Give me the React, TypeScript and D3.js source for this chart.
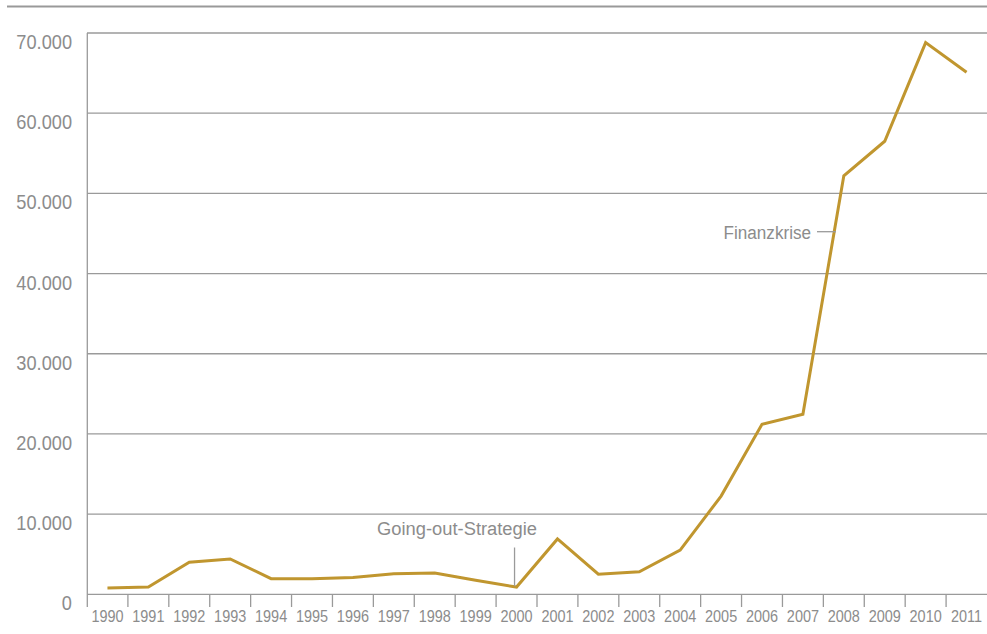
import React from "react";
import * as d3 from "d3";

const years = ["1990","1991","1992","1993","1994","1995","1996","1997","1998","1999","2000","2001","2002","2003","2004","2005","2006","2007","2008","2009","2010","2011"];
const values = [800, 900, 4000, 4400, 1950, 1950, 2100, 2550, 2650, 1750, 900, 6900, 2500, 2800, 5500, 12250, 21200, 22450, 52200, 56500, 68800, 65100];
const yTicks = [0, 10000, 20000, 30000, 40000, 50000, 60000, 70000];
const yTickLabels = ["0", "10.000", "20.000", "30.000", "40.000", "50.000", "60.000", "70.000"];
const annotations = [
  { year: "2000", label: "Going-out-Strategie" },
  { year: "2008", label: "Finanzkrise" },
];

const W = 987, H = 634;
const FONT = "'Liberation Sans', Arial, sans-serif";
const TEXT = "#8c8c8c";
const GRID = "#9a9a9a";
const LINE = "#C0962F";

function T({ x, y, sx, size, anchor, children }: { x: number; y: number; sx: number; size: number; anchor: string; children: React.ReactNode }) {
  return (
    <text transform={`translate(${x},${y}) scale(${sx},1)`} textAnchor={anchor} fontSize={size} fill={TEXT}>
      {children}
    </text>
  );
}

export default function App() {
  const x = d3.scaleBand<string>().domain(years).range([87, 987]).padding(0);
  const y = d3.scaleLinear().domain([0, 70000]).range([594.3, 33]);
  const cx = (yr: string) => (x(yr) as number) + x.bandwidth() / 2;
  const line = d3.line<number>().x((_, i) => cx(years[i])).y((v) => y(v));
  const path = line(values) || "";

  const a0 = annotations[0];
  const a1 = annotations[1];
  const a0x = cx(a0.year) - 2;
  const a0v = values[years.indexOf(a0.year)];

  return (
    <svg width={W} height={H} style={{ position: "absolute", left: 0, top: 0, background: "#fff" }} fontFamily={FONT}>
      <line x1={7} x2={W} y1={6.5} y2={6.5} stroke="#999" strokeWidth={2} />
      {yTicks.map((t, i) => (
        <g key={t}>
          {t > 0 && <line x1={87} x2={W} y1={y(t)} y2={y(t)} stroke={GRID} strokeWidth={1.3} />}
          <T x={72} y={y(t) + 16} sx={0.91} size={20} anchor="end">{yTickLabels[i]}</T>
        </g>
      ))}
      <line x1={87.3} x2={87.3} y1={y(70000)} y2={607} stroke={GRID} strokeWidth={1.3} />
      <line x1={87} x2={W} y1={y(0)} y2={y(0)} stroke={GRID} strokeWidth={1.3} />
      {years.map((yr, i) => (
        <g key={yr}>
          {i > 0 && <line x1={x(yr)} x2={x(yr)} y1={y(0)} y2={607} stroke={GRID} strokeWidth={1.3} />}
          <T x={cx(yr)} y={622} sx={0.85} size={17} anchor="middle">{yr}</T>
        </g>
      ))}
      <path d={path} fill="none" stroke={LINE} strokeWidth={3} strokeLinejoin="miter" />
      <line x1={a0x} x2={a0x} y1={547.5} y2={y(a0v) - 1} stroke={GRID} strokeWidth={1.3} />
      <T x={537} y={535} sx={0.965} size={19} anchor="end">{a0.label}</T>
      <line x1={817} x2={836} y1={231.7} y2={231.7} stroke={GRID} strokeWidth={1.3} />
      <T x={811} y={238.5} sx={0.9} size={19} anchor="end">{a1.label}</T>
    </svg>
  );
}
